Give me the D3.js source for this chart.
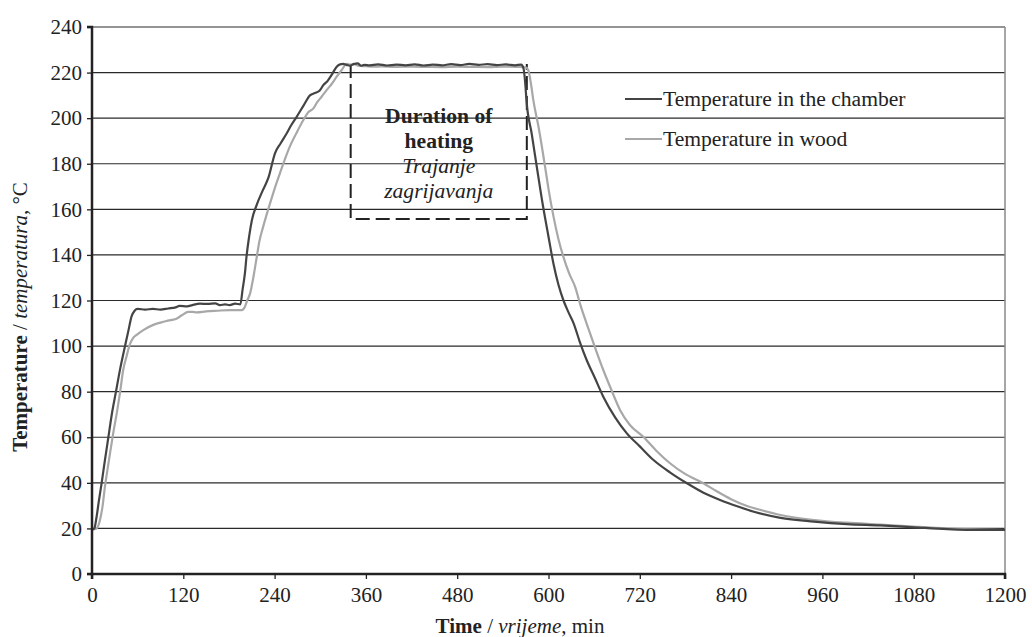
<!DOCTYPE html>
<html>
<head>
<meta charset="utf-8">
<script src="https://cdn.jsdelivr.net/npm/d3@7"></script>
<style>
  html, body { margin: 0; padding: 0; background: #fff; }
  svg { display: block; font-family: "Liberation Serif", "Times New Roman", serif; }
</style>
</head>
<body>
<svg id="chart" width="1032" height="637"></svg>
<script>
// ---- data ----
const xTicks = [0, 120, 240, 360, 480, 600, 720, 840, 960, 1080, 1200];
const yTicks = [0, 20, 40, 60, 80, 100, 120, 140, 160, 180, 200, 220, 240];

const chamberTime = [0, 3, 6, 9, 12.7, 17, 21.5, 26, 31.5, 37, 43.4, 48, 52, 56, 60, 70, 80, 90, 100, 110, 115, 125, 132, 142, 152, 162, 168, 175, 181, 188, 195,
  198, 201, 203, 206.5, 210, 216.5, 224, 232, 240.5, 248, 256, 262, 269, 278, 286.5, 293, 299, 304, 310, 315, 321.6, 326, 330, 335, 339, 344, 349, 354, 358,
  365, 376, 388, 400, 412, 424, 436, 448, 460, 472, 484, 496, 508, 520, 532, 544, 556, 564,
  567, 569.5, 571, 578, 584.6, 593, 600, 606.6, 613, 619.7, 626, 633, 641, 650, 661, 672, 688, 703, 720, 738, 760, 782, 803, 825.5, 849, 870, 905, 949, 992, 1036, 1080, 1124, 1168, 1200];
const chamberTemp = [19.5, 20, 25, 32, 40, 50, 60, 70, 80, 90, 100, 107, 113, 115.5, 116.3, 116, 116.3, 116, 116.5, 117, 117.6, 117.4, 118, 118.6, 118.5, 118.7, 118, 118.3, 118, 118.6, 118.3,
  125, 132, 139, 148, 155, 162, 168, 174, 184.6, 189, 193.4, 197, 200.6, 205.5, 210, 211, 212, 214.5, 216.5, 219, 222.6, 223.6, 223.8, 223.3, 223, 223.7, 224, 223, 223.4,
  223.2, 223.6, 223.1, 223.5, 223.2, 223.6, 223.1, 223.5, 223.2, 223.7, 223.3, 223.8, 223.4, 223.7, 223.3, 223.6, 223.2, 223.5,
  222, 215, 208, 193, 178.7, 161, 148, 136, 127, 120, 115, 110, 102, 94, 86, 77.8, 68.5, 61.7, 56, 50, 44.5, 39.8, 35.8, 32.5, 29.6, 27.3, 24.6, 23, 21.9, 21.3, 20.5, 19.7, 19.3, 19.3];

const woodTime = [0, 6, 10.5, 14, 17, 20, 23.7, 28, 32.5, 37, 41, 45, 50, 54, 58.7, 67.4, 80.6, 90, 98, 105, 111, 118, 126.6, 132, 137.6, 150, 164, 181.4, 190, 196.8,
  201, 204, 207.7, 212, 216.5, 220, 225, 234, 240, 247, 253, 260, 268, 277.8, 284, 291, 296, 302, 308.6, 315, 321.6, 328, 334.8, 340, 344, 350, 360,
  370, 380, 400, 420, 440, 460, 480, 500, 520, 540, 560, 570,
  573.5, 577, 580, 587, 595.5, 600, 606.6, 613, 619.7, 627, 635, 642, 650, 661, 672, 683, 694, 707, 724.6, 742, 759.7, 780, 803.5, 820, 840, 861, 880, 905, 949, 992, 1036, 1080, 1124, 1168, 1200];
const woodTemp = [19.5, 20, 23.7, 30, 38.3, 45, 53, 62, 70.5, 80, 89.5, 95, 101, 103.5, 104.9, 107, 109.3, 110.3, 111, 111.5, 112, 113.5, 115, 115, 114.8, 115.2, 115.5, 115.8, 115.8, 115.8,
  117.3, 120, 123, 130, 139, 146, 152.4, 162.6, 169, 175.8, 181.5, 187.5, 193, 199.2, 202.5, 204.3, 207, 209.5, 212.4, 215, 218.2, 221, 223.8, 223.5, 223.8, 223, 222.8,
  222.6, 222.7, 222.5, 222.6, 222.5, 222.4, 222.6, 222.5, 222.4, 222.6, 222.5, 222.3,
  221, 215, 208, 196, 178.7, 169, 156.8, 147, 139, 132, 126, 118, 110, 99.5, 89.5, 80.5, 72, 65.4, 60.2, 54, 48.6, 43.8, 39.8, 36.5, 32.8, 29.8, 28, 25.9, 23.7, 22.5, 21.7, 20.8, 20, 19.5, 19.3];

const seriesNames = ["Temperature in the chamber", "Temperature in wood"];
const heatingStart = 340, heatingEnd = 571.5, heatingLow = 155.8, heatingHigh = 223.8;

// ---- layout ----
const W = 1032, H = 637;
const margin = { left: 92, right: 27, top: 27, bottom: 63 };
const FS = 21;
const FS2 = 21.6;
const svg = d3.select("#chart");
const x = d3.scaleLinear().domain([0, 1200]).range([margin.left, W - margin.right]);
const y = d3.scaleLinear().domain([0, 240]).range([H - margin.bottom, margin.top]);

// gridlines
svg.append("g").selectAll("line").data(yTicks.filter(d => d > 0)).join("line")
  .attr("x1", x(0)).attr("x2", x(1200))
  .attr("y1", d => y(d)).attr("y2", d => y(d))
  .attr("stroke", "#2a2a2a").attr("stroke-width", 1.1);

// right border
svg.append("line").attr("x1", x(1200)).attr("x2", x(1200)).attr("y1", y(0)).attr("y2", y(240))
  .attr("stroke", "#888").attr("stroke-width", 1.5);

// heating box
const boxPath = d3.path();
boxPath.moveTo(x(heatingStart), y(heatingHigh));
boxPath.lineTo(x(heatingStart), y(heatingLow));
boxPath.lineTo(x(heatingEnd), y(heatingLow));
boxPath.lineTo(x(heatingEnd), y(heatingHigh));
svg.append("path").attr("d", boxPath.toString()).attr("fill", "none")
  .attr("stroke", "#222").attr("stroke-width", 2).attr("stroke-dasharray", "14,6");

// lines
const line = d3.line().x(d => x(d[0])).y(d => y(d[1])).curve(d3.curveMonotoneX);
const wood = woodTime.map((t, i) => [t, woodTemp[i]]);
const chamber = chamberTime.map((t, i) => [t, chamberTemp[i]]);
svg.append("path").datum(wood).attr("d", line).attr("fill", "none")
  .attr("stroke", "#a8a8a8").attr("stroke-width", 2.2);
svg.append("path").datum(chamber).attr("d", line).attr("fill", "none")
  .attr("stroke", "#444").attr("stroke-width", 2.2);

// axes
const yAxis = d3.axisLeft(y).tickValues(yTicks).tickFormat(d3.format("d")).tickSize(5).tickPadding(5);
const gy = svg.append("g").attr("transform", `translate(${x(0)},0)`).call(yAxis);
const xAxis = d3.axisBottom(x).tickValues(xTicks).tickFormat(d3.format("d")).tickSize(5).tickPadding(8);
const gx = svg.append("g").attr("transform", `translate(0,${y(0)})`).call(xAxis);
[gx, gy].forEach(g => {
  g.attr("font-family", null);
  g.select(".domain").attr("stroke", "#222").attr("stroke-width", 2.5);
  g.selectAll(".tick line").attr("stroke", "#222").attr("stroke-width", 1.3);
  g.selectAll(".tick text").attr("font-family", "Liberation Serif, serif").attr("font-size", FS).attr("fill", "#222");
});
gy.select(".domain").attr("d", `M-5,${y(240)}H0V${y(0)}H-5`);
gx.select(".domain").attr("d", `M${x(0)},5V0H${x(1200)}V5`);

// legend
const legend = svg.append("g");
const legendColors = ["#444", "#a8a8a8"];
const legendY = [99, 139];
seriesNames.forEach((name, i) => {
  legend.append("line").attr("x1", 625).attr("x2", 662).attr("y1", legendY[i]).attr("y2", legendY[i])
    .attr("stroke", legendColors[i]).attr("stroke-width", 2.2);
  legend.append("text").attr("x", 663).attr("y", legendY[i]).attr("dy", "0.33em")
    .attr("font-size", FS2).attr("fill", "#222").text(name);
});

// box text
const cx = (x(heatingStart) + x(heatingEnd)) / 2;
const boxText = [
  { t: "Duration of", w: "bold", s: "normal", y: 123 },
  { t: "heating", w: "bold", s: "normal", y: 148 },
  { t: "Trajanje", w: "normal", s: "italic", y: 173 },
  { t: "zagrijavanja", w: "normal", s: "italic", y: 198 }
];
boxText.forEach(d => {
  svg.append("text").attr("x", cx).attr("y", d.y).attr("text-anchor", "middle")
    .attr("font-size", FS2).attr("font-weight", d.w).attr("font-style", d.s).attr("fill", "#222").text(d.t);
});

// x title
const xt = svg.append("text").attr("x", 520).attr("y", 633).attr("text-anchor", "middle")
  .attr("font-size", FS).attr("fill", "#222");
xt.append("tspan").attr("font-weight", "bold").text("Time");
xt.append("tspan").text(" / ");
xt.append("tspan").attr("font-style", "italic").text("vrijeme");
xt.append("tspan").text(", min");

// y title
const yt = svg.append("text").attr("transform", `translate(27,317) rotate(-90)`).attr("text-anchor", "middle")
  .attr("font-size", FS).attr("fill", "#222");
yt.append("tspan").attr("font-weight", "bold").text("Temperature");
yt.append("tspan").text(" / ");
yt.append("tspan").attr("font-style", "italic").text("temperatura");
yt.append("tspan").text(", °C");
</script>
</body>
</html>
